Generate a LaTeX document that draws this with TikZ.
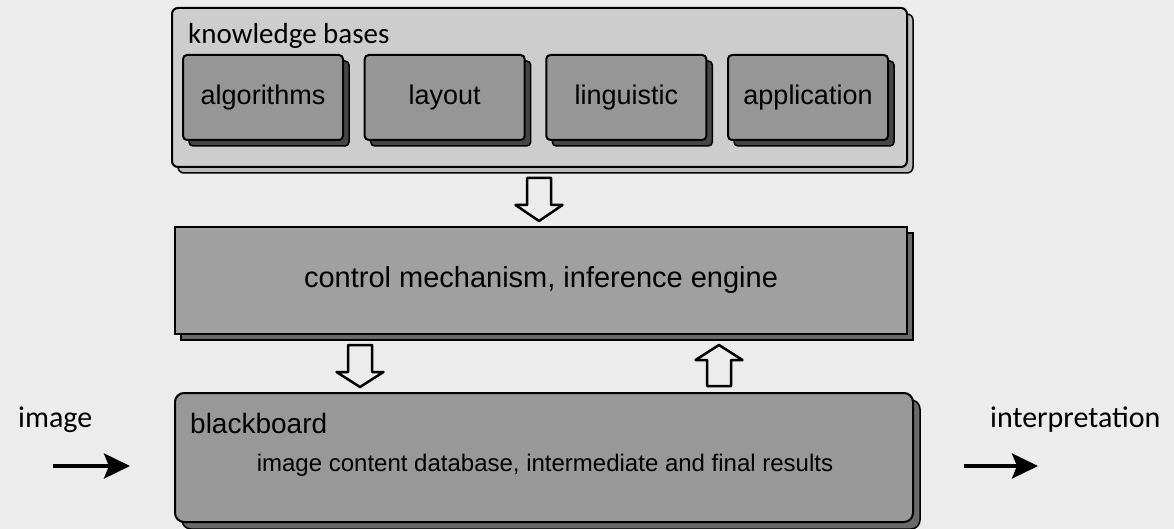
\documentclass[tikz,border=0pt]{standalone}
\usepackage{fontspec}
\setmainfont{Liberation Sans}
\newfontfamily\carl{Carlito}
\usetikzlibrary{shadows,arrows.meta}
\definecolor{bgc}{RGB}{236,236,236}
\definecolor{kbc}{RGB}{205,205,205}
\definecolor{kbshadc}{RGB}{185,185,185}
\definecolor{innerc}{RGB}{150,150,150}
\definecolor{ctrlc}{RGB}{160,160,160}
\definecolor{bbc}{RGB}{152,152,152}
\definecolor{shadc}{RGB}{70,70,70}
\definecolor{midshadc}{RGB}{105,105,105}
\begin{document}
\begin{tikzpicture}[x=1pt,y=-1pt,
  box/.style={draw=black, line width=2pt, inner sep=0pt},
  shad/.style 2 args={drop shadow={shadow xshift=#1, shadow yshift=-#1, fill=#2, draw=black, line width=1.5pt, opacity=1}},
  kbbox/.style={box, shad={6pt}{kbshadc}, rounded corners=6pt, fill=kbc, minimum width=735pt, minimum height=159pt},
  inbox/.style={box, shad={6pt}{shadc}, rounded corners=4pt, fill=innerc, minimum width=160pt, minimum height=85pt, font=\fontsize{27}{27}\selectfont},
  ctrlbox/.style={box, shad={6pt}{midshadc}, fill=ctrlc, minimum width=732pt, minimum height=107pt, font=\fontsize{29}{29}\selectfont},
  bbbox/.style={box, shad={7pt}{midshadc}, rounded corners=9pt, fill=bbc, minimum width=738pt, minimum height=129pt},
  outlabel/.style={font=\carl\fontsize{30}{30}\selectfont, inner sep=0pt, anchor=base west},
  hollow/.style={draw=black, fill=bgc, line width=2.5pt, line join=round},
  thinarrow/.style={line width=4pt, -{Stealth[length=26pt, width=25pt, inset=5pt]}}
]
\useasboundingbox[fill=bgc] (0,0) rectangle (1174,529);

% knowledge bases
\node[kbbox] (kb) at (539.5,87.5) {};
\node[font=\carl\fontsize{29}{29}\selectfont, inner sep=0pt, anchor=base west] (kbl) at (188,44) {knowledge bases};
\node[inbox] (alg) at (263,97.5) {algorithms};
\node[inbox] (lay) at (444.7,97.5) {layout};
\node[inbox] (lin) at (626.3,97.5) {linguistic};
\node[inbox] (app) at (808,97.5) {application};

% control
\node[ctrlbox] (ctrl) at (541,280.5) {control mechanism, inference engine};

% blackboard
\node[bbbox] (bb) at (544,457.5) {};
\node[font=\fontsize{28}{28}\selectfont, inner sep=0pt, anchor=base west] (bbl) at (190,433) {blackboard};
\node[font=\fontsize{24}{24}\selectfont, inner sep=0pt, anchor=base] (bbt) at (545,471) {image content database, intermediate and final results};

% hollow arrows
\coordinate (a1) at (539,178);
\draw[hollow] (a1) ++(-12,0) -- ++(24,0) -- ++(0,27) -- ++(11.5,0) -- ++(-23.5,16) -- ++(-23.5,-16) -- ++(11.5,0) -- cycle;
\coordinate (a2) at (360,345);
\draw[hollow] (a2) ++(-12,0) -- ++(24,0) -- ++(0,27) -- ++(11.5,0) -- ++(-23.5,15) -- ++(-23.5,-15) -- ++(11.5,0) -- cycle;
\coordinate (a3) at (719,386);
\draw[hollow] (a3) ++(-12,0) -- ++(24,0) -- ++(0,-26) -- ++(11.5,0) -- ++(-23.5,-15) -- ++(-23.5,15) -- ++(11.5,0) -- cycle;

% input / output
\node[outlabel] (img) at (18,427) {image};
\node[outlabel] (interp) at (990,427) {interpretation};
\coordinate (inA) at (53,466);
\coordinate (inB) at (130,466);
\draw[thinarrow] (inA) -- (inB);
\coordinate (outA) at (964,466);
\coordinate (outB) at (1038,466);
\draw[thinarrow] (outA) -- (outB);
\end{tikzpicture}
\end{document}
